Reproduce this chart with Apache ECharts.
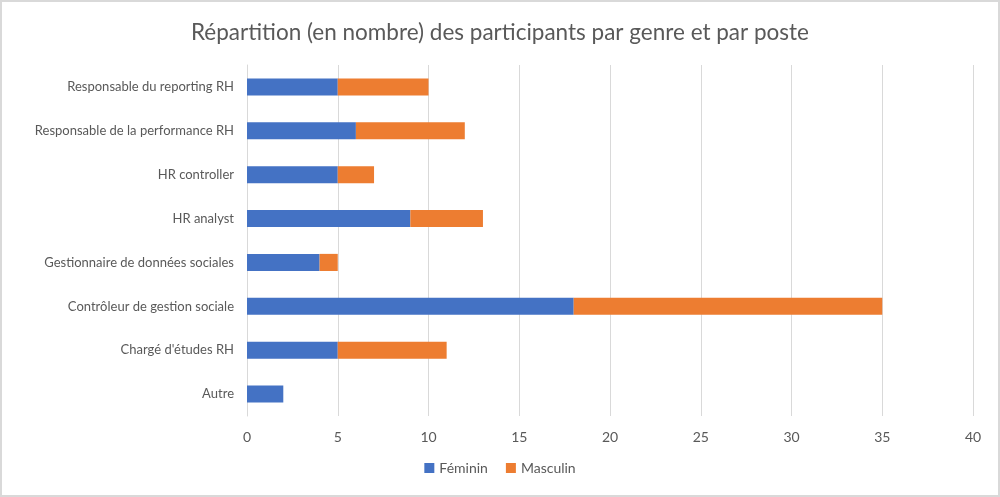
<!DOCTYPE html>
<html><head><meta charset="utf-8">
<script src="https://cdn.jsdelivr.net/npm/echarts@6/dist/echarts.min.js"></script>
<style>
html,body{margin:0;padding:0;background:#fff;}
#frame{position:absolute;left:0;top:0;width:996px;height:493px;border:2px solid #d9d9d9;}
#c{position:absolute;left:0;top:0;width:1000px;height:497px;}
</style></head>
<body><div id="frame"></div><div id="c"></div>
<script>
const categories = ["Autre","Chargé d'études RH","Contrôleur de gestion sociale","Gestionnaire de données sociales","HR analyst","HR controller","Responsable de la performance RH","Responsable du reporting RH"];
const feminin = [2,5,18,4,9,5,6,5];
const masculin = [0,6,17,1,4,2,6,5];
const seriesNames = ["Féminin","Masculin"];

const chart = echarts.init(document.getElementById('c'), null, {renderer:'canvas'});
const font = 'Lato, "Open Sans", sans-serif';
chart.setOption({
  animation:false,
  backgroundColor:'transparent',
  title:{text:'Répartition (en nombre) des participants par genre et par poste',left:'center',top:16,
    textStyle:{fontFamily:font,fontSize:22.5,fontWeight:'normal',color:'#595959'}},
  legend:{bottom:17,left:'center',itemWidth:10,itemHeight:10,itemGap:18,icon:'rect',
    textStyle:{fontFamily:font,fontSize:14,color:'#595959'},data:seriesNames},
  grid:{left:247,right:27,top:65,bottom:81,containLabel:false},
  xAxis:{type:'value',min:0,max:40,interval:5,
    axisLine:{show:false},axisTick:{show:false},
    axisLabel:{fontFamily:font,fontSize:14,color:'#595959',margin:14},
    splitLine:{lineStyle:{color:'#d9d9d9'}}},
  yAxis:{type:'category',data:categories,
    axisLine:{lineStyle:{color:'#d9d9d9'}},axisTick:{show:false},
    axisLabel:{fontFamily:font,fontSize:13,color:'#595959',margin:13}},
  series:[
    {name:seriesNames[0],type:'bar',stack:'t',data:feminin,barWidth:'39%',itemStyle:{color:'#4472c4'}},
    {name:seriesNames[1],type:'bar',stack:'t',data:masculin,barWidth:'39%',itemStyle:{color:'#ed7d31'}}
  ]
});
</script></body></html>
